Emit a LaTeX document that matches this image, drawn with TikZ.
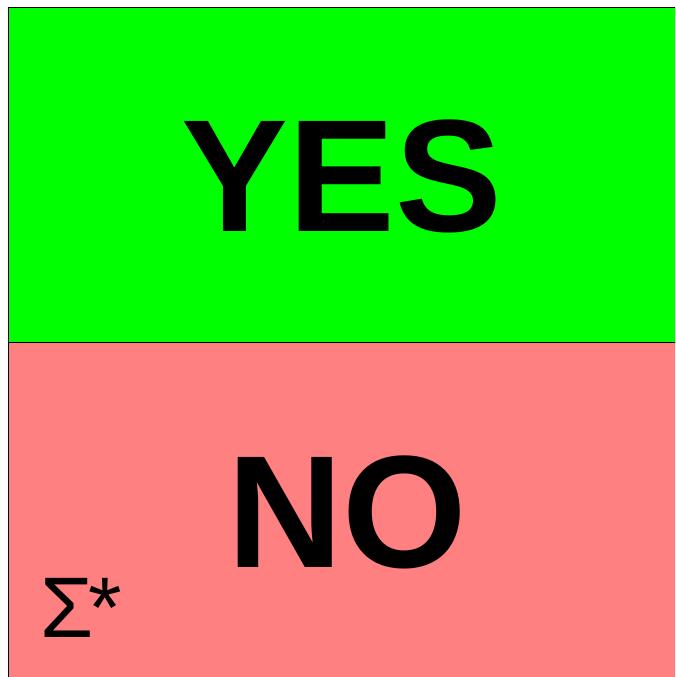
\documentclass[tikz,border=0pt]{standalone}
\usepackage{fontspec}
\setmainfont{Liberation Sans}
\definecolor{yesgreen}{RGB}{0,255,0}
\definecolor{nored}{RGB}{255,128,128}
\tikzset{
  region/.style={draw=black, line width=1pt},
  bigword/.style={font=\fontsize{160}{160}\selectfont\bfseries, inner sep=0pt, anchor=base},
  setlabel/.style={font=\fontsize{86}{86}\selectfont, inner sep=0pt, anchor=base west},
}
\begin{document}
\begin{tikzpicture}[x=1pt,y=1pt]
\useasboundingbox (0,0) rectangle (675,677);
\clip (0,0) rectangle (675,677);
\path[region, fill=yesgreen] (8,669) rectangle (690,334);
\path[region, fill=nored] (8,334) rectangle (690,-10);
\node[bigword] (yes) at (342,445.3) {YES};
\node[bigword] (no) at (347,109.3) {NO};
\node[setlabel] (sigma) at (40,39.7) {Σ\kern-5pt*};
\end{tikzpicture}
\end{document}
